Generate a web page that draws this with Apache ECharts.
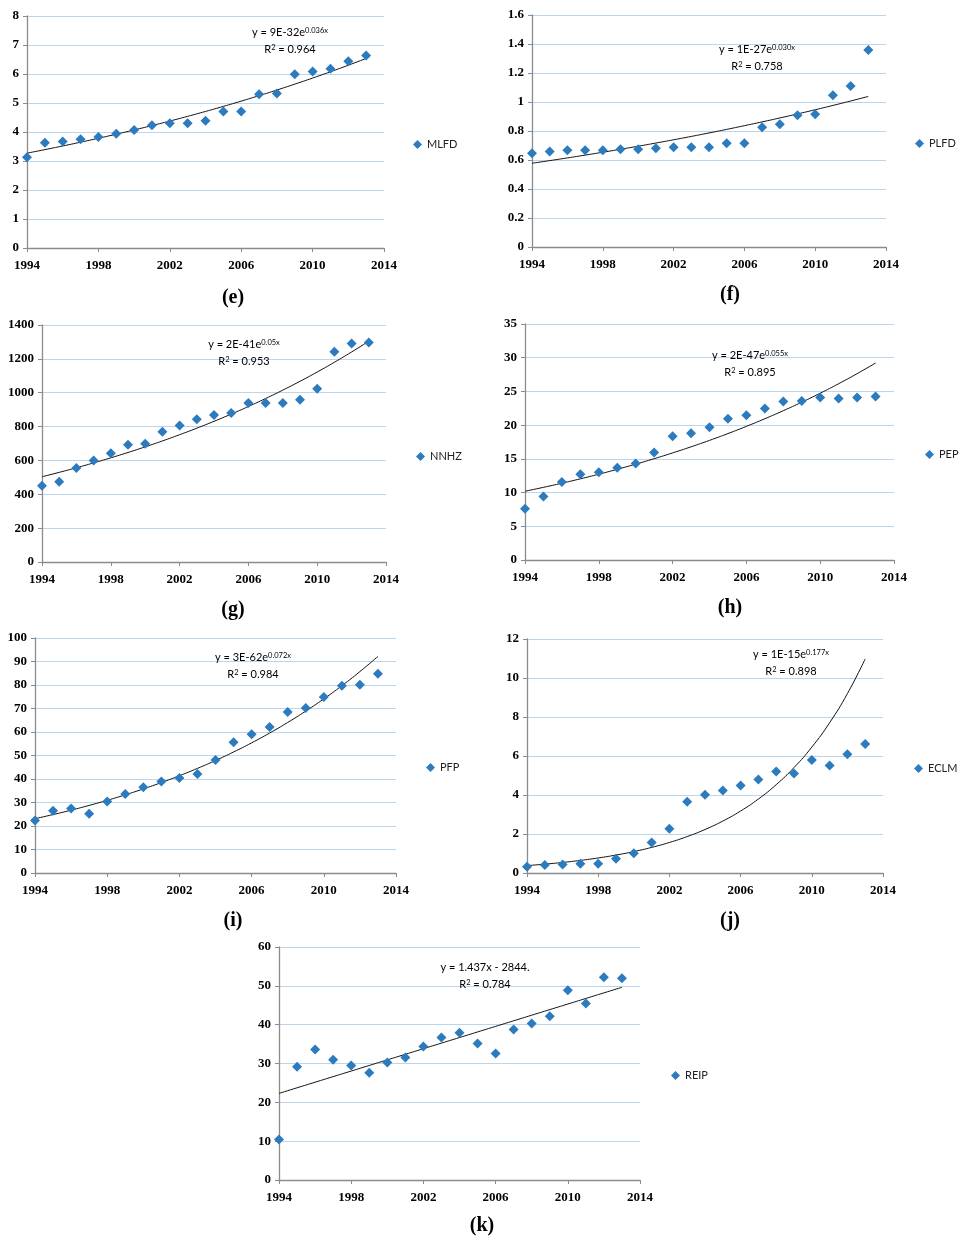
<!DOCTYPE html>
<html>
<head>
<meta charset="utf-8">
<script src="https://cdn.jsdelivr.net/npm/echarts@6/dist/echarts.min.js"></script>
<style>
html,body{margin:0;padding:0;background:#fff;}
#chart{width:973px;height:1248px;}
</style>
</head>
<body>
<div id="chart"></div>
<script>
// ---------- data ----------
const years = [1994,1995,1996,1997,1998,1999,2000,2001,2002,2003,2004,2005,2006,2007,2008,2009,2010,2011,2012,2013];
const xTicks = [1994,1998,2002,2006,2010,2014];

const mlfd = [3.13,3.63,3.67,3.75,3.83,3.94,4.07,4.23,4.30,4.30,4.39,4.71,4.71,5.30,5.33,5.99,6.09,6.18,6.44,6.64];
const plfd = [0.647,0.658,0.668,0.668,0.668,0.674,0.674,0.681,0.688,0.688,0.688,0.716,0.716,0.826,0.847,0.909,0.916,1.047,1.110,1.358];
const nnhz = [451,474,555,600,642,693,699,770,807,843,868,880,939,939,939,959,1024,1242,1290,1296];
const pep  = [7.6,9.43,11.55,12.73,13.03,13.67,14.31,15.94,18.36,18.81,19.69,20.93,21.47,22.46,23.49,23.59,24.09,23.94,24.09,24.23];
const pfp  = [22.3,26.5,27.5,25.2,30.4,33.6,36.5,38.9,40.4,42.1,48.1,55.6,59.0,62.1,68.5,70.2,74.9,79.7,80.1,84.8];
const eclm = [0.32,0.41,0.44,0.48,0.48,0.73,1.01,1.57,2.27,3.65,4.01,4.23,4.49,4.80,5.21,5.10,5.79,5.51,6.09,6.61];
const reip = [10.46,29.14,33.6,30.94,29.49,27.6,30.26,31.54,34.37,36.69,37.89,35.14,32.57,38.74,40.29,42.17,48.86,45.43,52.2,51.94];

const seriesNames = ['MLFD','PLFD','NNHZ','PEP','PFP','ECLM','REIP'];
const panelLabels = ['(e)','(f)','(g)','(h)','(i)','(j)','(k)'];
const fitTypes = ['exp','exp','exp','exp','exp','exp','linear'];
const eqMain = ['y = 9E-32e','y = 1E-27e','y = 2E-41e','y = 2E-47e','y = 3E-62e','y = 1E-15e','y = 1.437x - 2844.'];
const eqExp  = ['0.036x','0.030x','0.05x','0.055x','0.072x','0.177x',''];
const r2Text = ['0.964','0.758','0.953','0.895','0.984','0.898','0.784'];
const yMax = [8,1.6,1400,35,100,12,60];
const yStep = [1,0.2,200,5,10,2,10];
const allValues = [mlfd,plfd,nnhz,pep,pfp,eclm,reip];

// ---------- layout (positions only) ----------
const layout = [
  {grid:{left:27,top:16,width:357,height:232}, legend:[413,139], eq:[290,33], label:[233,300]},
  {grid:{left:532,top:15,width:354,height:232}, legend:[915,138], eq:[757,50], label:[730,297]},
  {grid:{left:42,top:325,width:344,height:237}, legend:[416,451], eq:[244,345], label:[233,612]},
  {grid:{left:525,top:324,width:369,height:236}, legend:[925,449], eq:[750,356], label:[730,610]},
  {grid:{left:35,top:638,width:361,height:235}, legend:[426,762], eq:[253,658], label:[233,923]},
  {grid:{left:527,top:639,width:356,height:234}, legend:[914,763], eq:[791,655], label:[730,923]},
  {grid:{left:279,top:947,width:361,height:233}, legend:[671,1070], eq:[485,968], label:[482,1228]}
];

// ---------- regression (like spreadsheet trendlines) ----------
function fit(xs, ys, type){
  const n = xs.length;
  const X = xs.map(x => x - xs[0]);
  const Y = type === 'exp' ? ys.map(v => Math.log(v)) : ys.slice();
  let sx=0, sy=0, sxx=0, sxy=0;
  for(let i=0;i<n;i++){ sx+=X[i]; sy+=Y[i]; sxx+=X[i]*X[i]; sxy+=X[i]*Y[i]; }
  const b = (n*sxy - sx*sy)/(n*sxx - sx*sx);
  const a = (sy - b*sx)/n;
  return x => type === 'exp' ? Math.exp(a + b*(x - xs[0])) : a + b*(x - xs[0]);
}

const BLUE = '#2C7BBF';
const grids=[], xAxes=[], yAxes=[], series=[], legends=[], graphics=[];
const richEq = {
  m:{fontFamily:'Lato', fontSize:11, color:'#222', lineHeight:14, verticalAlign:'top'},
  s:{fontFamily:'Lato', fontSize:7.5, color:'#222', lineHeight:7, verticalAlign:'top'}
};

seriesNames.forEach((name, i) => {
  const L = layout[i];
  grids.push(Object.assign({containLabel:false}, L.grid));
  xAxes.push({
    type:'value', gridIndex:i, min:xTicks[0], max:xTicks[xTicks.length-1], interval:4,
    axisLine:{show:true, onZero:false, lineStyle:{color:'#8c8c8c', width:1.3}},
    axisTick:{show:true, length:4, lineStyle:{color:'#8c8c8c'}},
    axisLabel:{color:'#000', fontFamily:'Liberation Serif', fontWeight:'bold', fontSize:13, margin:11,
               formatter: v => String(v)},
    splitLine:{show:false}
  });
  yAxes.push({
    type:'value', gridIndex:i, min:0, max:yMax[i], interval:yStep[i],
    axisLine:{show:true, lineStyle:{color:'#8c8c8c', width:1.3}},
    axisTick:{show:true, length:4, lineStyle:{color:'#8c8c8c'}},
    axisLabel:{color:'#000', fontFamily:'Liberation Serif', fontWeight:'bold', fontSize:13, margin:8,
               formatter: v => String(Math.round(v*1000)/1000)},
    splitLine:{show:true, lineStyle:{color:'#BCD5EE', width:1.2}}
  });
  const vals = allValues[i];
  const f = fit(years, vals, fitTypes[i]);
  series.push({
    name:name, type:'scatter', xAxisIndex:i, yAxisIndex:i,
    symbol:'diamond', symbolSize:10,
    itemStyle:{color:BLUE, opacity:1},
    data: years.map((y,k)=>[y, vals[k]]),
    z:3
  });
  series.push({
    name:name+' trend', type:'line', xAxisIndex:i, yAxisIndex:i,
    showSymbol:false, symbol:'none', smooth:true,
    lineStyle:{color:'#111', width:1},
    data: years.map(y=>[y, f(y)]),
    z:2, silent:true
  });
  legends.push({
    data:[{name:name, icon:'diamond'}], left:L.legend[0], top:L.legend[1], padding:0,
    itemWidth:9, itemHeight:9, itemGap:4, selectedMode:false,
    itemStyle:{color:BLUE, opacity:1},
    textStyle:{fontFamily:'Lato', fontSize:11, color:'#222'}
  });
  graphics.push({
    type:'text', x:L.eq[0], y:L.eq[1]-6, z:10,
    style:{
      text: eqExp[i] ? '{m|'+eqMain[i]+'}{s|'+eqExp[i]+'}' : '{m|'+eqMain[i]+'}',
      rich:richEq, align:'center'
    }
  });
  graphics.push({
    type:'text', x:L.eq[0], y:L.eq[1]+11, z:10,
    style:{ text:'{m|R}{s|2}{m| = '+r2Text[i]+'}', rich:richEq, align:'center' }
  });
  graphics.push({
    type:'text', x:L.label[0], y:L.label[1]-12, z:10,
    style:{text:panelLabels[i], fontFamily:'Liberation Serif', fontWeight:'bold', fontSize:20, fill:'#000', align:'center'}
  });
});

const chart = echarts.init(document.getElementById('chart'), null, {renderer:'canvas'});
chart.setOption({
  animation:false,
  backgroundColor:'#fff',
  grid:grids, xAxis:xAxes, yAxis:yAxes, series:series, legend:legends, graphic:graphics
});
</script>
</body>
</html>
